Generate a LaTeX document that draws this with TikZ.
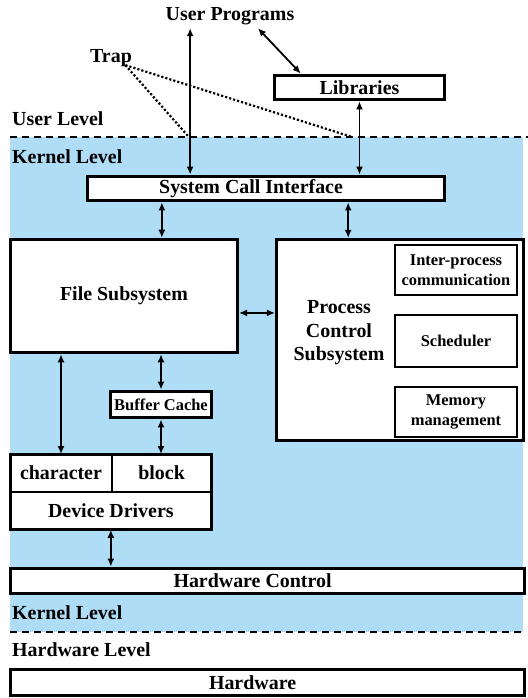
\documentclass[tikz,border=0pt]{standalone}
\usepackage{fontspec}
\setmainfont{Liberation Serif}
\usetikzlibrary{arrows.meta,positioning}
\definecolor{kernelblue}{RGB}{174,221,245}

\begin{document}
\begin{tikzpicture}[x=1bp, y=-1bp,
        every node/.style={font=\fontsize{20}{23.5}\selectfont\bfseries},
        box/.style={draw, fill=white, line width=3pt, inner sep=0pt},
        subbox/.style={draw, fill=white, line width=2pt, inner sep=0pt, align=center,
            font=\fontsize{16.5}{20}\selectfont\bfseries},
        cell/.style={draw, fill=white, line width=1.5pt, inner sep=0pt, outer sep=0pt},
        level/.style={anchor=west, inner sep=0pt},
        link/.style={{Latex[length=8bp,width=7bp]}-{Latex[length=8bp,width=7bp]}, line width=1.8pt},
        trapline/.style={line width=2.2pt, dash pattern=on 2.2pt off 2pt},
        levelline/.style={line width=2.8pt, dash pattern=on 7bp off 5bp}]
            \useasboundingbox (0,0) rectangle (528,698);
            \fill[kernelblue] (10,137) rectangle (523,632);

            % Levels
            \node(userlvl) [level] at (12,119) {User Level};
            \node(kernlvl) [level] at (12,157) {Kernel Level};
            \node(kernlvl2) [level] at (12,613) {Kernel Level};
            \node(hwlvl) [level] at (12,650) {Hardware Level};
            \draw[levelline] (10,137) -- (528,137);
            \draw[levelline] (10,632) -- (525,632);

            % User side
            \node(uprog) at (230,16) {User Programs};
            \node(trap) at (111,58) {Trap};
            \node(libs) [box, minimum width=171, minimum height=25] at (359.5,87.5) {Libraries};
            \coordinate(trapa) at (188,136);
            \coordinate(trapb) at (352,137);

            % Kernel
            \node(sci) [box, minimum width=358, minimum height=25,
                label={[xshift=-15]center:System Call Interface}] at (266,188.5) {};
            \node(filesub) [box, minimum width=228, minimum height=114] at (124,296) {File Subsystem};
            \node(pcs) [box, minimum width=248, minimum height=202] at (400,340) {};
            \node(pcstext) [align=center] at (339,333) {Process\\Control\\Subsystem};
            \node(ipc) [subbox, minimum width=122, minimum height=50] at (456,270) {Inter-process\\communication};
            \node(sched) [subbox, minimum width=122, minimum height=52, below=18bp of ipc] {Scheduler};
            \node(mem) [subbox, minimum width=122, minimum height=50, below=18bp of sched] {Memory\\management};
            \node(buffer) [box, font=\fontsize{16.5}{20}\selectfont\bfseries, minimum width=102,
                minimum height=27] at (161,404.5) {Buffer Cache};

            % Device drivers
            \node(char) [cell, minimum width=102, minimum height=38] at (61,473) {character};
            \node(block) [cell, minimum width=100, minimum height=38, right=0pt of char] {block};
            \node(devdrv) [cell, minimum width=202, minimum height=38, anchor=north west]
                at (char.south west) {Device Drivers};
            \draw[line width=3pt] (char.north west) rectangle (devdrv.south east);

            % Hardware
            \node(hwctl) [box, minimum width=515, minimum height=26,
                label={[xshift=-15]center:Hardware Control}] at (267.5,581) {};
            \node(hw) [box, minimum width=515, minimum height=27,
                label={[xshift=-15]center:Hardware}] at (267.5,682.5) {};

            % Draw Lines
            \draw[link] ([xshift=-40]uprog.south) -- ([xshift=-40]uprog.south |- sci.north);
            \draw[link] ([xshift=28]uprog.south) -- ([xshift=-59]libs.north);
            \draw[link] (libs.south) -- (libs.south |- sci.north);
            \draw[trapline] ([shift={(-10,-5)}]trap.south east) -- (trapa);
            \draw[trapline] ([shift={(-10,-5)}]trap.south east) -- (trapb);

            \draw[link] ([xshift=38]filesub.north) -- ([xshift=38]filesub.north |- sci.south);
            \draw[link] ([xshift=-52]pcs.north) -- ([xshift=-52]pcs.north |- sci.south);
            \draw[link] ([yshift=-17]filesub.east) -- ([yshift=-17]filesub.east -| pcs.west);

            \draw[link] (char.north) -- (char.north |- filesub.south);
            \draw[link] (buffer.north) -- (buffer.north |- filesub.south);
            \draw[link] (buffer.south) -- (buffer.south |- block.north);
            \draw[link] (devdrv.south) -- (devdrv.south |- hwctl.north);

        \end{tikzpicture}
\end{document}
